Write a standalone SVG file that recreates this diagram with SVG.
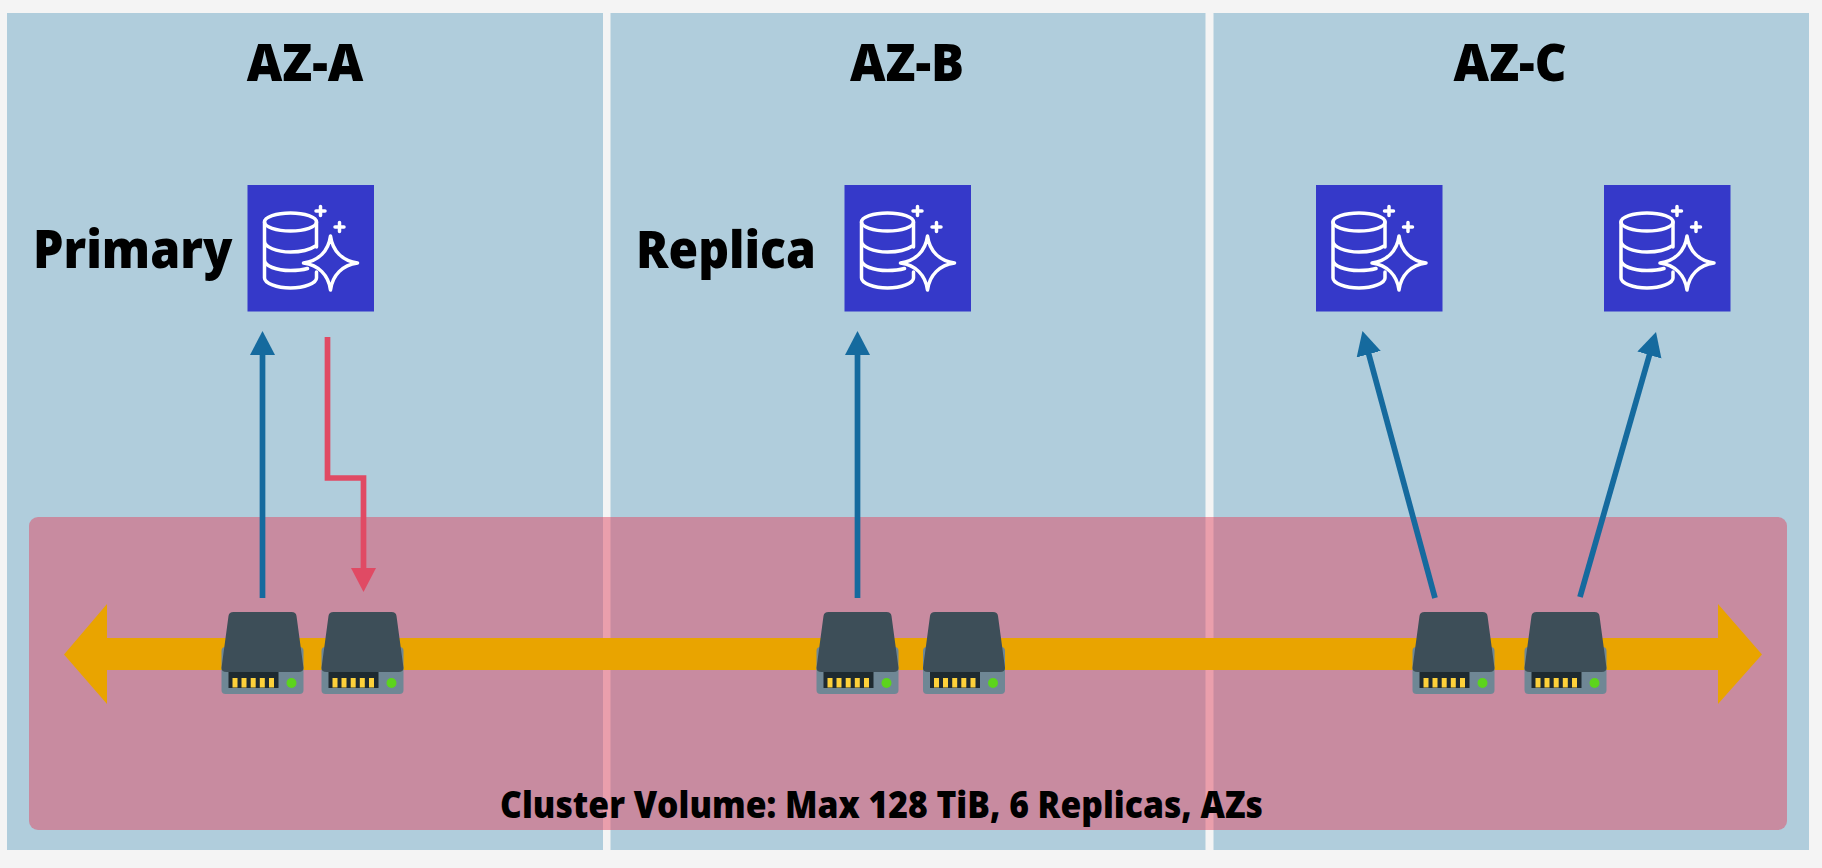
<svg xmlns="http://www.w3.org/2000/svg" width="1822" height="868" viewBox="0 0 1822 868">
<style>
.panel{fill:#b0cddc}
.t{font-family:"Open Sans","Liberation Sans",sans-serif;font-weight:800;fill:#000}
.ic{fill:none;stroke:#fff;stroke-width:3.500;stroke-linecap:round;stroke-linejoin:round}
.blue{fill:none;stroke:#156a9e;stroke-width:5.700}
.red{fill:none;stroke:#e04a64;stroke-width:5.700}
</style>
<defs>
<marker id="ab" markerUnits="userSpaceOnUse" markerWidth="26" markerHeight="26" refX="4" refY="12.500" orient="auto"><path d="M0 0L24 12.500L0 25Z" fill="#156a9e"/></marker>
<marker id="ar" markerUnits="userSpaceOnUse" markerWidth="26" markerHeight="26" refX="4" refY="12.500" orient="auto"><path d="M0 0L24 12.500L0 25Z" fill="#e04a64"/></marker>
<g id="dbicon">
<rect width="126.500" height="126.500" fill="#3539c9"/>
<ellipse class="ic" cx="43" cy="37" rx="26" ry="9"/>
<path class="ic" d="M17 37V93C17 98 29 103 43 103S69 98 69 93V87M69 37V62M17 56C17 62 29 67 43 67C53 67 62 65 68 61M17 75C17 81 29 85.500 43 85.500C49 85.500 55 85 60 83.500"/>
<path class="ic" d="M83 51C85 66 95 76 110 78C95 80 85 90 83 105C81 90 71 80 56 78C71 76 81 66 83 51Z"/>
<path class="ic" d="M73 21.500V30.500M68.500 26H77.500M92 37.500V46.500M87.500 42H96.500"/>
</g>
<g id="disk">
<rect x="0" y="35" width="82" height="47" rx="4" fill="#6f8795"/>
<path d="M7 4Q7.500 0 12 0H70Q74.500 0 75 4L82 56Q82 60 77 60H5Q0 60 0 56Z" fill="#3d4e58"/>
<rect x="7" y="60" width="50" height="16" fill="#1e2a30"/>
<g fill="#fdd13a"><rect x="11" y="66" width="5" height="9.500"/><rect x="20" y="66" width="5" height="9.500"/><rect x="29.200" y="66" width="5" height="9.500"/><rect x="38.300" y="66" width="5" height="9.500"/><rect x="47.500" y="66" width="5" height="9.500"/></g>
<circle cx="70" cy="71" r="5" fill="#5cd41c"/>
</g>
</defs>
<rect width="1822" height="868" fill="#f4f4f4"/>
<g id="az-a"><rect class="panel" x="7" y="13" width="596" height="837"/><text class="t" transform="translate(305 80.500) scale(1 1.06)" font-size="49" text-anchor="middle">AZ-A</text></g>
<g id="az-b"><rect class="panel" x="610.500" y="13" width="595" height="837"/><text class="t" transform="translate(907 80.500) scale(1 1.06)" font-size="49" text-anchor="middle">AZ-B</text></g>
<g id="az-c"><rect class="panel" x="1213.500" y="13" width="595.500" height="837"/><text class="t" transform="translate(1510 80.500) scale(1 1.06)" font-size="49" text-anchor="middle">AZ-C</text></g>
<g id="cluster-volume"><rect x="29" y="517" width="1758" height="313" rx="9" fill="#e04a64" fill-opacity=".5"/></g>
<g id="storage-bus"><path d="M64 654.500L107 604V638H1718V604L1762 654.500L1718 704V670H107V704Z" fill="#e9a400"/></g>
<g id="primary"><use href="#dbicon" x="247.500" y="185"/><text class="t" transform="translate(33 268) scale(1 1.08)" font-size="48.300">Primary</text></g>
<g id="replica"><use href="#dbicon" x="844.500" y="185"/><text class="t" transform="translate(636 268) scale(1 1.08)" font-size="48">Replica</text></g>
<g id="instance-c1"><use href="#dbicon" x="1316" y="185"/></g>
<g id="instance-c2"><use href="#dbicon" x="1604" y="185"/></g>
<g id="disk-a1"><use href="#disk" x="221.500" y="612"/></g>
<g id="disk-a2"><use href="#disk" x="321.500" y="612"/></g>
<g id="disk-b1"><use href="#disk" x="816.500" y="612"/></g>
<g id="disk-b2"><use href="#disk" x="923" y="612"/></g>
<g id="disk-c1"><use href="#disk" x="1412.500" y="612"/></g>
<g id="disk-c2"><use href="#disk" x="1524.500" y="612"/></g>
<g id="connectors">
<path class="blue" marker-end="url(#ab)" d="M262.500 598V351"/>
<path class="red" marker-end="url(#ar)" d="M327.500 337V478H363.500V572"/>
<path class="blue" marker-end="url(#ab)" d="M857.500 598V351"/>
<path class="blue" marker-end="url(#ab)" d="M1435 598L1367.700 350.300"/>
<path class="blue" marker-end="url(#ab)" d="M1580 597L1650.500 351.200"/>
</g>
<text id="volume-label" class="t" transform="translate(881.500 818) scale(1 1.1)" font-size="33.700" text-anchor="middle">Cluster Volume: Max 128 TiB, 6 Replicas, AZs</text>
</svg>
